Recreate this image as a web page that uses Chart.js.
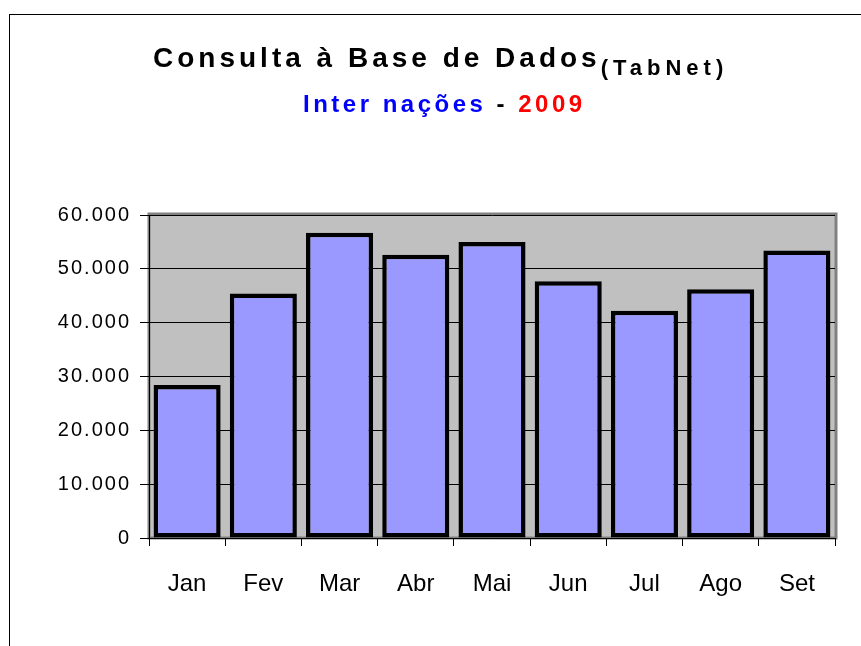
<!DOCTYPE html>
<html>
<head>
<meta charset="utf-8">
<script src="https://cdn.jsdelivr.net/npm/chart.js@4"></script>
<style>
  body { margin: 0; background: #fff; }
  #wrap { position: relative; width: 861px; height: 646px; }
  #chart { position: absolute; left: 0; top: 0; }
  .t { position: absolute; font-family: Arial, "Liberation Sans", sans-serif; font-weight: bold; white-space: nowrap; }
  #title { left: 153px; top: 42px; font-size: 28px; letter-spacing: 4px; color: #000; }
  #title small { font-size: 22px; letter-spacing: 5px; position: relative; top: 8px; }
  #sub { left: 303px; top: 90px; font-size: 24px; letter-spacing: 3.5px; }
</style>
</head>
<body>
<div id="wrap">
  <canvas id="chart" width="861" height="646"></canvas>
  <div class="t" id="title">Consulta à Base de Dados<small>(TabNet)</small></div>
  <div class="t" id="sub"><span style="color:#0000FF">Inter nações</span> - <span style="color:#FF0000">2009</span></div>
</div>
<script>
// Internações por mês - 2009
const months = ['Jan', 'Fev', 'Mar', 'Abr', 'Mai', 'Jun', 'Jul', 'Ago', 'Set'];
const internacoes = [28400, 45400, 56700, 52600, 55000, 47700, 42200, 46200, 53400];
const yTicks = [0, 10000, 20000, 30000, 40000, 50000, 60000];

function fmt(v) {
    return String(v).replace(/\B(?=(\d{3})+(?!\d))/g, '.');
}

// gray plot area, its border and the outer frame
const plotBg = {
    id: 'plotBg',
    beforeDraw(chart) {
        const ctx = chart.ctx;
        const a = chart.chartArea;
        ctx.save();
        ctx.strokeStyle = '#000';
        ctx.lineWidth = 1;
        ctx.strokeRect(9.5, 14.5, 1000, 1000);
        ctx.fillStyle = '#C0C0C0';
        ctx.fillRect(a.left, a.top, a.right - a.left, a.bottom - a.top);
        ctx.strokeStyle = '#808080';
        ctx.lineWidth = 3;
        ctx.strokeRect(a.left, a.top - 1, a.right - a.left + 1, a.bottom - a.top + 1);
        ctx.restore();
    },
    // y labels are drawn after the bars (ticks.z = 1), spaced a bit wider
    afterDatasetsDraw(chart) {
        chart.ctx.letterSpacing = '2px';
    },
    afterDraw(chart) {
        chart.ctx.letterSpacing = '0px';
    }
};

const ctx = document.getElementById('chart').getContext('2d');
const chart = new Chart(ctx, {
    type: 'bar',
    data: {
        labels: months,
        datasets: [{
            label: 'Internações',
            data: internacoes,
            backgroundColor: '#9999FF',
            borderColor: '#000',
            borderWidth: 4.5,
            borderSkipped: false,
            categoryPercentage: 1,
            barPercentage: 0.88
        }]
    },
    options: {
        responsive: false,
        animation: false,
        events: [],
        layout: { padding: { left: 10, top: 215, right: 26, bottom: 0 } },
        plugins: {
            legend: { display: false },
            tooltip: { enabled: false }
        },
        scales: {
            x: {
                afterFit: s => { s.height = 108; },
                grid: { offset: true, drawOnChartArea: false, color: '#000', tickLength: 8 },
                border: { color: '#000', width: 1 },
                ticks: {
                    color: '#000',
                    padding: 24,
                    font: { family: 'Arial, "Liberation Sans", sans-serif', size: 24 }
                }
            },
            y: {
                min: 0,
                max: 60000,
                afterFit: s => { s.width = 139; },
                afterBuildTicks: s => { s.ticks = yTicks.map(v => ({ value: v })); },
                grid: { color: '#000', tickLength: 9 },
                border: { color: '#000', width: 1 },
                ticks: {
                    z: 1,
                    color: '#000',
                    padding: 9,
                    font: { family: 'Arial, "Liberation Sans", sans-serif', size: 20 },
                    callback: v => fmt(v)
                }
            }
        }
    },
    plugins: [plotBg]
});
</script>
</body>
</html>
